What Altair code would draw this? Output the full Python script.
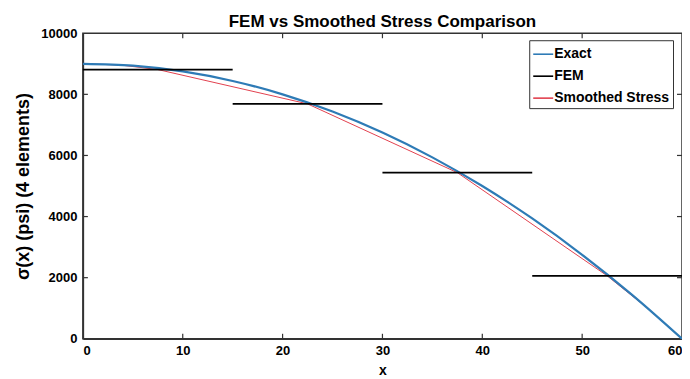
import altair as alt
import pandas as pd

# Exact stress curve
exact_x = [0, 5, 10, 15, 20, 25, 30, 35, 40, 45, 50, 55, 60]
exact_y = [9000, 8938, 8750, 8438, 8000, 7438, 6750, 5938, 5000, 3938, 2750, 1438, 0]

# FEM piecewise-constant element stresses
fem_x0 = [0, 15, 30, 45]
fem_x1 = [15, 30, 45, 60]
fem_y = [8812, 7688, 5438, 2062]

# Smoothed stress
smooth_x = [0, 3.75, 7.5, 22.5, 37.5, 52.5, 56.25, 60]
smooth_y = [9000, 8960, 8812, 7688, 5438, 2062, 1080, 0]

x_ticks = [10, 20, 30, 40, 50]
y_ticks = [2000, 4000, 6000, 8000]

series = ["Exact", "FEM", "Smoothed Stress"]
colors = ["#2e7bb6", "#000000", "#e2404e"]

rows = []
for xv, yv in zip(exact_x, exact_y):
    rows.append({"x": xv, "y": yv, "series": "Exact", "grp": "e"})
for i, (a, b, yv) in enumerate(zip(fem_x0, fem_x1, fem_y)):
    rows.append({"x": a, "y": yv, "series": "FEM", "grp": f"f{i}"})
    rows.append({"x": b, "y": yv, "series": "FEM", "grp": f"f{i}"})
for xv, yv in zip(smooth_x, smooth_y):
    rows.append({"x": xv, "y": yv, "series": "Smoothed Stress", "grp": "s"})
df = pd.DataFrame(rows)

W, H = 600, 306
FONT = "Liberation Sans"

xscale = alt.Scale(domain=[0, 60], nice=False, zero=False)
yscale = alt.Scale(domain=[0, 10000], nice=False)

color = alt.Color(
    "series:N",
    scale=alt.Scale(domain=series, range=colors),
    legend=alt.Legend(
        title=None,
        orient="none",
        legendX=447,
        legendY=7,
        symbolType="stroke",
        symbolSize=400,
        symbolStrokeWidth=1.6,
        labelFont=FONT,
        labelFontSize=14,
        labelFontWeight="bold",
        labelColor="#000000",
        labelOffset=0,
        rowPadding=4,
        strokeColor="#333333",
        fillColor="#ffffff",
        padding=3,
    ),
)

xaxis = alt.Axis(
    title="x",
    values=[0, 10, 20, 30, 40, 50, 60],
    ticks=False,
    labelPadding=6,
    titlePadding=6,
    grid=False,
)
yaxis = alt.Axis(
    title="σ(x) (psi) (4 elements)",
    values=[0, 2000, 4000, 6000, 8000, 10000],
    format="d",
    ticks=False,
    labelPadding=6,
    titlePadding=8,
    titleFontSize=18,
    grid=False,
)

base = alt.Chart(df)

exact = base.transform_filter(alt.datum.series == "Exact").mark_line(
    interpolate="monotone", strokeWidth=2.2
).encode(
    x=alt.X("x:Q", scale=xscale, axis=xaxis),
    y=alt.Y("y:Q", scale=yscale, axis=yaxis),
    color=color,
    detail="grp:N",
    order=alt.Order("x:Q"),
)

fem = base.transform_filter(alt.datum.series == "FEM").mark_line(
    strokeWidth=1.8
).encode(
    x=alt.X("x:Q", scale=xscale),
    y=alt.Y("y:Q", scale=yscale),
    color=color,
    detail="grp:N",
    order=alt.Order("x:Q"),
)

smooth = base.transform_filter(alt.datum.series == "Smoothed Stress").mark_line(
    strokeWidth=1.0
).encode(
    x=alt.X("x:Q", scale=xscale),
    y=alt.Y("y:Q", scale=yscale),
    color=color,
    detail="grp:N",
    order=alt.Order("x:Q"),
)

xt = pd.DataFrame({"t": x_ticks})
yt = pd.DataFrame({"t": y_ticks})

tick_bottom = alt.Chart(xt).mark_rule(color="#333", strokeWidth=1.2).encode(
    x=alt.X("t:Q", scale=xscale), y=alt.value(H), y2=alt.value(H - 5)
)
tick_top = alt.Chart(xt).mark_rule(color="#333", strokeWidth=1.2).encode(
    x=alt.X("t:Q", scale=xscale), y=alt.value(0), y2=alt.value(5)
)
tick_left = alt.Chart(yt).mark_rule(color="#333", strokeWidth=1.2).encode(
    y=alt.Y("t:Q", scale=yscale), x=alt.value(0), x2=alt.value(5)
)
tick_right = alt.Chart(yt).mark_rule(color="#333", strokeWidth=1.2).encode(
    y=alt.Y("t:Q", scale=yscale), x=alt.value(W), x2=alt.value(W - 5)
)

chart = (
    alt.layer(smooth, exact, fem, tick_bottom, tick_top, tick_left, tick_right)
    .properties(
        width=W,
        height=H,
        title=alt.TitleParams(
            "FEM vs Smoothed Stress Comparison",
            font=FONT,
            fontSize=17,
            fontWeight="bold",
            color="#000000",
            offset=0,
            dy=4,
        ),
        autosize=alt.AutoSizeParams(type="none"),
        padding={"left": 75, "top": 25, "right": 0, "bottom": 40},
    )
    .configure_view(stroke="#333333", strokeWidth=1.5)
    .configure_axis(
        domainColor="#333333",
        domainWidth=1.5,
        labelFont=FONT,
        labelFontSize=13,
        labelFontWeight="bold",
        labelColor="#000000",
        titleFont=FONT,
        titleFontSize=14,
        titleFontWeight="bold",
        titleColor="#000000",
    )
)

chart.save("out.html", embed_options={"renderer": "svg", "actions": False})
